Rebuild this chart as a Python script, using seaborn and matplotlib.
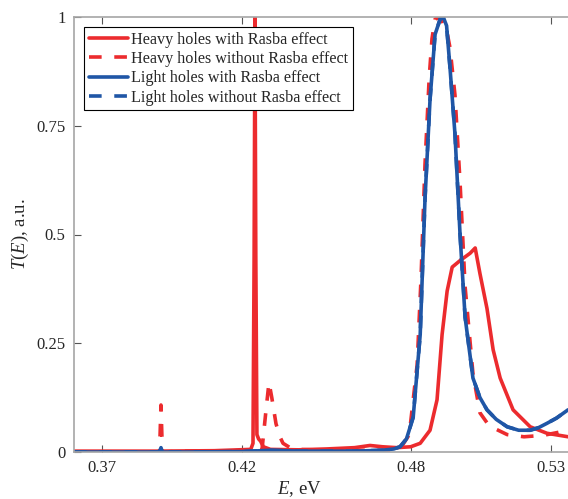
import numpy as np
import matplotlib
matplotlib.use("Agg")
import matplotlib.pyplot as plt
import seaborn as sns
from matplotlib.ticker import FixedLocator, FuncFormatter

# Heavy holes with Rasba effect
E_hr = [0.36, 0.39, 0.41, 0.423, 0.4238, 0.4242, 0.4245, 0.4248, 0.4252, 0.4258, 0.4265,
        0.4275, 0.43, 0.44, 0.45, 0.46, 0.4655, 0.47, 0.475, 0.48, 0.4834, 0.4869, 0.4894,
        0.4912, 0.493, 0.4948, 0.4976, 0.5012, 0.503, 0.5047, 0.5072, 0.5094, 0.5119,
        0.5165, 0.5226, 0.5286, 0.5361]
T_hr = [0.002, 0.002, 0.003, 0.006, 0.02, 0.45, 1.0, 0.45, 0.04, 0.03, 0.025,
        0.012, 0.006, 0.005, 0.007, 0.01, 0.015, 0.012, 0.01, 0.012, 0.02, 0.05, 0.12,
        0.27, 0.37, 0.425, 0.44, 0.457, 0.469, 0.41, 0.33, 0.235, 0.17,
        0.097, 0.058, 0.043, 0.035]

# Heavy holes without Rasba effect
E_hd = [0.36, 0.385, 0.3905, 0.391, 0.3915, 0.40, 0.42, 0.427, 0.4285, 0.4295, 0.4305,
        0.432, 0.4334, 0.4345, 0.437, 0.44, 0.45, 0.46, 0.47, 0.4745, 0.477, 0.4795,
        0.4823, 0.4837, 0.4851, 0.4866, 0.4876, 0.4887, 0.4905, 0.4928, 0.494, 0.4958,
        0.4976, 0.4994, 0.5022, 0.5047, 0.508, 0.5144, 0.5204, 0.5245, 0.5286, 0.5325,
        0.5361]
T_hd = [0.0, 0.0, 0.0, 0.108, 0.0, 0.002, 0.003, 0.005, 0.10, 0.16, 0.125,
        0.065, 0.035, 0.02, 0.01, 0.006, 0.004, 0.004, 0.004, 0.005, 0.015, 0.04,
        0.2, 0.4, 0.66, 0.86, 0.95, 0.995, 1.0, 0.97, 0.93, 0.82,
        0.62, 0.38, 0.18, 0.09, 0.06, 0.04, 0.035, 0.037, 0.04, 0.045,
        0.05]

# Light holes (with and without Rasba effect coincide)
E_l = [0.36, 0.385, 0.3905, 0.391, 0.3915, 0.40, 0.42, 0.43, 0.44, 0.46, 0.47, 0.474,
       0.4762, 0.4785, 0.4809, 0.4834, 0.4851, 0.4869, 0.4887, 0.4905, 0.4916, 0.4928,
       0.494, 0.4958, 0.4976, 0.4994, 0.5022, 0.5047, 0.5072, 0.5105, 0.5144, 0.5185,
       0.5226, 0.5256, 0.5286, 0.532, 0.5361]
T_lr = [0.0, 0.0, 0.0, 0.01, 0.0, 0.0, 0.001, 0.004, 0.002, 0.002, 0.004, 0.007,
        0.012, 0.03, 0.08, 0.27, 0.58, 0.81, 0.96, 0.995, 1.0, 0.98,
        0.885, 0.73, 0.5, 0.31, 0.17, 0.125, 0.097, 0.075, 0.058, 0.05,
        0.05, 0.056, 0.066, 0.078, 0.097]
T_ld = T_lr

x_ticks = [0.37, 0.42, 0.48, 0.53]
y_ticks = [0, 0.25, 0.5, 0.75, 1]

sns.set_theme(style="ticks")
plt.rcParams["font.family"] = ["Liberation Serif", "DejaVu Serif"]
plt.rcParams["mathtext.fontset"] = "custom"
plt.rcParams["mathtext.rm"] = "Liberation Serif"
plt.rcParams["mathtext.it"] = "Liberation Serif:italic"

red = "#EC2B2E"
blue = "#1F56A6"
lw = 2.6
dash = (0, (3.5, 3.5))

fig = plt.figure(figsize=(5.68, 4.99), dpi=100)
ax = fig.add_axes([74 / 568, 47 / 499, 505 / 568, 435 / 499])

sns.lineplot(x=E_hr, y=T_hr, ax=ax, color=red, linewidth=lw, errorbar=None,
             label="Heavy holes with Rasba effect")
sns.lineplot(x=E_hd, y=T_hd, ax=ax, color=red, linewidth=lw, linestyle=dash, errorbar=None,
             label="Heavy holes without Rasba effect")
sns.lineplot(x=E_l, y=T_lr, ax=ax, color=blue, linewidth=lw, errorbar=None,
             label="Light holes with Rasba effect")
sns.lineplot(x=E_l, y=T_ld, ax=ax, color=blue, linewidth=lw, linestyle=dash, errorbar=None,
             label="Light holes without Rasba effect")

ax.set_xlim(0.36, 0.54)
ax.set_ylim(0, 1)
ax.xaxis.set_major_locator(FixedLocator(x_ticks))
ax.yaxis.set_major_locator(FixedLocator(y_ticks))
ax.xaxis.set_major_formatter(FuncFormatter(lambda v, p: f"{v:g}"))
ax.yaxis.set_major_formatter(FuncFormatter(lambda v, p: f"{v:g}"))
ax.tick_params(direction="in", length=5, width=0.8, color="#555555",
               labelsize=12, top=True, pad=6)

for s in ax.spines.values():
    s.set_color("#a6a6a6")
    s.set_linewidth(1.2)

ax.set_xlabel(r"$E$, eV", fontsize=13.5)
ax.set_ylabel(r"$T$($E$), a.u.", fontsize=13.5)
ax.xaxis.set_label_coords((299 - 74) / 505, -0.062)
ax.yaxis.set_label_coords(-0.085, 0.5)

leg = ax.legend(loc="upper left", bbox_to_anchor=(84 / 568, 1 - 27 / 499),
                bbox_transform=fig.transFigure, borderaxespad=0, fontsize=11.6,
                frameon=True, fancybox=False, framealpha=1, edgecolor="black",
                handlelength=2.4, handletextpad=0.2, labelspacing=0.2, borderpad=0.3)
leg.get_frame().set_linewidth(0.8)

fig.savefig("out.png", dpi=100)
